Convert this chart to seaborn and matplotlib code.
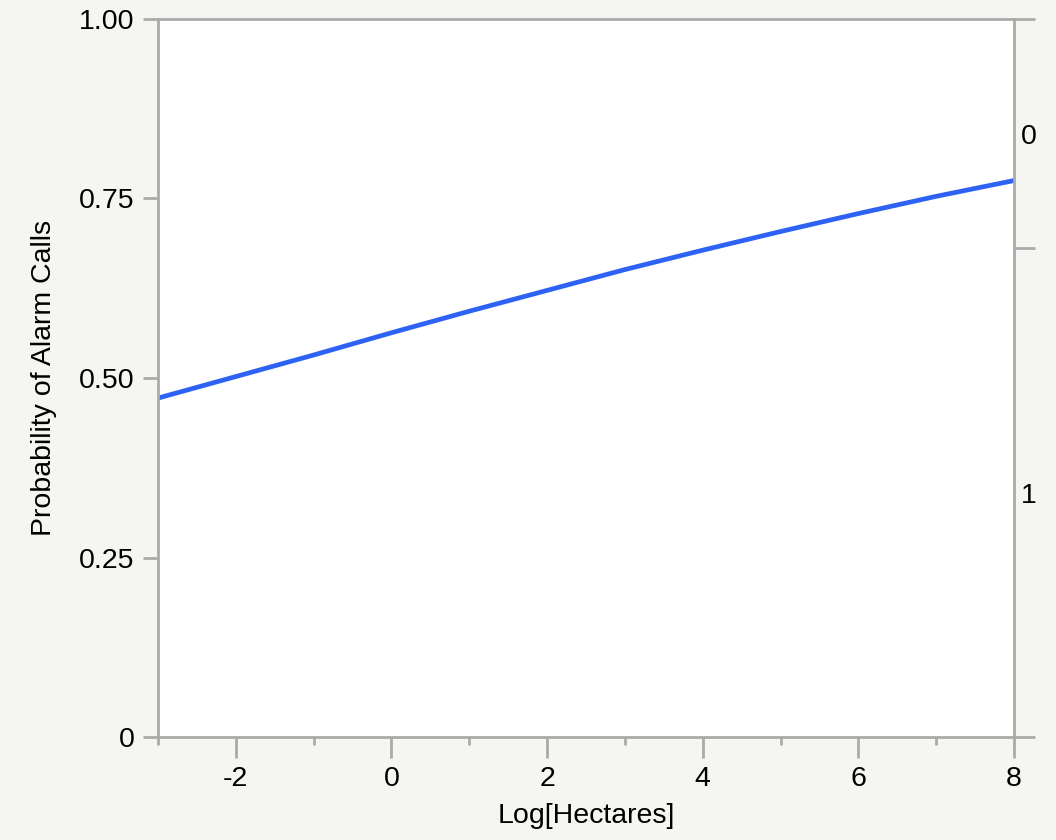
import numpy as np
import matplotlib.pyplot as plt
import seaborn as sns
import pandas as pd
from matplotlib.ticker import MultipleLocator

# Fitted probability curve
log_hectares = [-3, -2, -1, 0, 1, 2, 3, 4, 5, 6, 7, 8]
prob_alarm = [0.472, 0.502, 0.532, 0.563, 0.593, 0.622, 0.651, 0.678, 0.704, 0.729, 0.753, 0.775]

# Right-hand response axis: boundary between levels and level labels
level_boundary = 0.681
level_labels = ["0", "1"]

df = pd.DataFrame({"x": log_hectares, "p": prob_alarm})

sns.set_style("white")
plt.rcParams["font.family"] = ["Liberation Sans", "DejaVu Sans"]
plt.rcParams["axes.unicode_minus"] = False
plt.rcParams["text.color"] = "black"
plt.rcParams["axes.labelcolor"] = "black"
plt.rcParams["xtick.color"] = "black"
plt.rcParams["ytick.color"] = "black"
grey = "#aaaaaa"
bg = "#f5f5f1"
fs = 20.5

fig = plt.figure(figsize=(10.56, 8.4), dpi=100, facecolor=bg)
ax = fig.add_axes([0.1496, 0.1226, 0.8106, 0.8548])
ax.set_facecolor("white")

sns.lineplot(data=df, x="x", y="p", ax=ax, color="#2d62f5", linewidth=3.4)

ax.set_xlim(-3, 8)
ax.set_ylim(0, 1)
ax.set_xticks([-2, 0, 2, 4, 6, 8])
ax.xaxis.set_minor_locator(MultipleLocator(1))
ax.set_yticks([0, 0.25, 0.5, 0.75, 1.0])
ax.set_yticklabels(["0", "0.25", "0.50", "0.75", "1.00"])
ax.set_xlabel("Log[Hectares]", fontsize=fs, labelpad=8, color="black")
ax.set_ylabel("Probability of Alarm Calls", fontsize=fs, labelpad=16, color="black")

for s in ax.spines.values():
    s.set_visible(True)
    s.set_color(grey)
    s.set_linewidth(2)

ax.tick_params(axis="both", which="major", direction="out", length=11, width=2,
               color=grey, labelcolor="black", labelsize=fs, pad=6,
               bottom=True, left=True)
ax.tick_params(axis="x", which="minor", direction="out", length=6, width=2,
               color=grey, bottom=True)
ax.tick_params(axis="x", which="major", length=15)

# Right axis with response levels
ax2 = ax.twinx()
ax2.set_ylim(0, 1)
ax2.set_yticks([0, level_boundary, 1])
ax2.set_yticklabels([])
ax2.set_yticks([(level_boundary + 1) / 2, level_boundary / 2], minor=True)
ax2.set_yticklabels(level_labels, minor=True)
ax2.tick_params(axis="y", which="major", direction="out", length=15, width=2,
                color=grey, right=True)
ax2.tick_params(axis="y", which="minor", length=0, labelsize=fs, pad=5,
                labelcolor="black", right=True)
for s in ax2.spines.values():
    s.set_visible(False)

fig.savefig("out.png", dpi=100, facecolor=bg)
